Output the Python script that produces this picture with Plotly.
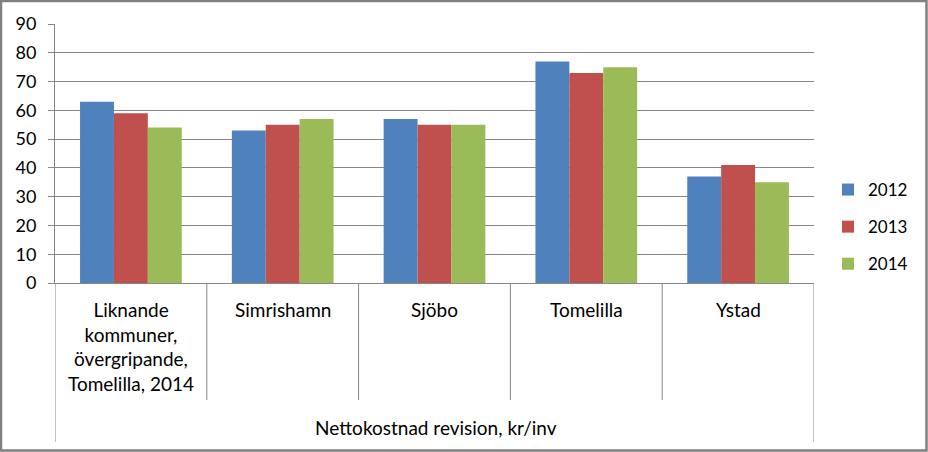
import plotly.graph_objects as go

# Nettokostnad revision, kr/inv
categories = ["Liknande<br>kommuner,<br>övergripande,<br>Tomelilla, 2014",
              "Simrishamn", "Sjöbo", "Tomelilla", "Ystad"]
years = ["2012", "2013", "2014"]
values_2012 = [63, 53, 57, 77, 37]
values_2013 = [59, 55, 55, 73, 41]
values_2014 = [54, 57, 55, 75, 35]
group_title = "Nettokostnad revision, kr/inv"

colors = ["#4F81BD", "#C0504D", "#9BBB59"]
FONT = "Lato, Calibri, 'Open Sans', sans-serif"
FS = 18

W, H = 928, 452
L, R, T, B = 55, 814, 24, 283  # plot area in pixels
pw, ph = R - L, B - T


def px(x):
    return (x - L) / pw


def py(y):
    return (B - y) / ph


fig = go.Figure()
idx = list(range(len(categories)))
for name, vals, c in zip(years, [values_2012, values_2013, values_2014], colors):
    fig.add_trace(go.Bar(name=name, x=idx, y=vals, marker_color=c,
                         marker_line_width=0, legendgroup=name))

shapes = []
# category separators
for i in range(len(categories) + 1):
    outer = i in (0, len(categories))
    shapes.append(dict(type="line", xref="x", yref="paper",
                       x0=i - 0.5, x1=i - 0.5, y0=0,
                       y1=py(442 if outer else 400),
                       line=dict(color="#868686", width=1)))
# outer chart border
shapes.append(dict(type="rect", xref="paper", yref="paper",
                   x0=px(1), x1=px(926.5), y0=py(1), y1=py(450.5),
                   line=dict(color="#808080", width=2.5)))

annotations = []
for i, c in enumerate(categories):
    annotations.append(dict(x=i, y=py(296), xref="x", yref="paper",
                            text=c, showarrow=False, yanchor="top",
                            xanchor="center",
                            font=dict(family=FONT, size=19, color="black")))
annotations.append(dict(x=px(436), y=py(427), xref="paper", yref="paper",
                        text=group_title, showarrow=False, yanchor="middle",
                        font=dict(family=FONT, size=19, color="black")))

fig.update_layout(
    width=W, height=H,
    margin=dict(l=L, r=W - R, t=T, b=H - B, pad=0),
    paper_bgcolor="white", plot_bgcolor="white",
    barmode="group", bargap=0.33, bargroupgap=0,
    font=dict(family=FONT, size=FS, color="black"),
    showlegend=True,
    legend=dict(x=px(828), y=py(172), xanchor="left", yanchor="top",
                font=dict(family=FONT, size=17, color="black"),
                tracegroupgap=12, traceorder="grouped",
                bgcolor="rgba(0,0,0,0)"),
    shapes=shapes, annotations=annotations,
)
fig.update_xaxes(range=[-0.5, len(categories) - 0.5], showticklabels=False,
                 showgrid=False, showline=True, linecolor="#868686",
                 linewidth=1, ticks="", zeroline=False, fixedrange=True)
fig.update_yaxes(range=[0, 90], dtick=10, showgrid=True, gridcolor="#868686",
                 gridwidth=1, showline=True, linecolor="#868686", linewidth=1,
                 ticks="outside", ticklen=6, tickcolor="#868686",
                 ticklabelstandoff=8, zeroline=False,
                 tickfont=dict(family=FONT, size=FS, color="black"))

fig.write_html("out.html", config={"displayModeBar": False},
               post_script="document.body.style.margin='0';")
